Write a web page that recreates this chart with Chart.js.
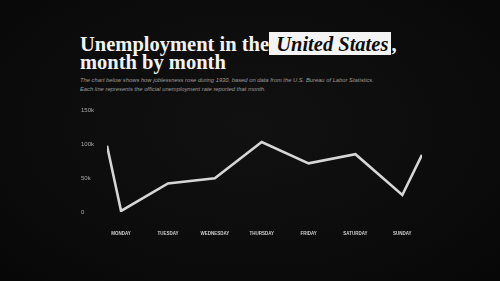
<!DOCTYPE html>
<html>
<head>
<meta charset="utf-8">
<script src="https://cdn.jsdelivr.net/npm/chart.js@4"></script>
<style>
    html, body {
        margin: 0;
        padding: 0;
        width: 500px;
        height: 281px;
        overflow: hidden;
        background: #0b0b0b;
    }
    body {
        position: relative;
        background: radial-gradient(ellipse at 50% 45%, #111111 0%, #0c0c0c 60%, #070707 100%);
    }
    .title {
        position: absolute;
        left: 80px;
        top: 35px;
        margin: 0;
        font-family: "Liberation Serif", "Times New Roman", serif;
        font-weight: bold;
        font-size: 20.5px;
        line-height: 18px;
        color: #f2f2f2;
        white-space: nowrap;
    }
    .title .hl {
        background: #f4f4f4;
        color: #0d0d0d;
        font-style: italic;
        font-weight: bold;
        padding: 1px 3px 0 2px;
    }
    .subtitle {
        position: absolute;
        left: 80px;
        top: 76px;
        margin: 0;
        font-family: "Liberation Sans", Arial, sans-serif;
        font-style: italic;
        font-size: 5.8px;
        line-height: 9px;
        color: #9c9c9c;
    }
    .chart-box {
        position: absolute;
        left: 0;
        top: 100px;
        width: 500px;
        height: 150px;
    }
</style>
</head>
<body>
<h1 class="title">Unemployment in the<span class="hl"> United States</span>,<br>month by month</h1>
<p class="subtitle">The chart below shows how joblessness rose during 1930, based on data from the U.S. Bureau of Labor Statistics.<br>Each line represents the official unemployment rate reported that month.</p>
<div class="chart-box"><canvas id="unemploymentChart"></canvas></div>

<script>
// Data
const days = ['MONDAY', 'TUESDAY', 'WEDNESDAY', 'THURSDAY', 'FRIDAY', 'SATURDAY', 'SUNDAY'];
const linePositions = [-0.3, 0, 1, 2, 3, 4, 5, 6, 6.42];
const lineValues = [97500, 1500, 42000, 49500, 103000, 71500, 85000, 25000, 84000];
const yTickValues = [0, 50000, 100000, 150000];
const yTickLabels = ['0', '50k', '100k', '150k'];

const ctx = document.getElementById('unemploymentChart').getContext('2d');
const chart = new Chart(ctx, {
    type: 'line',
    data: {
        datasets: [{
            data: linePositions.map((x, i) => ({ x: x, y: lineValues[i] })),
            borderColor: '#d6d6d6',
            borderWidth: 2.6,
            pointRadius: 0,
            tension: 0,
            fill: false
        }]
    },
    options: {
        responsive: true,
        maintainAspectRatio: false,
        animation: false,
        layout: {
            padding: { left: 81, right: 78, top: 10, bottom: 10 }
        },
        scales: {
            x: {
                type: 'linear',
                min: linePositions[0],
                max: linePositions[linePositions.length - 1],
                grid: { display: false, drawTicks: false },
                border: { display: false },
                afterBuildTicks: function(scale) {
                    scale.ticks = days.map((d, i) => ({ value: i }));
                },
                afterFit: function(scale) {
                    scale.height = 28;
                },
                ticks: {
                    padding: 19,
                    maxRotation: 0,
                    autoSkip: false,
                    color: '#cfcfcf',
                    font: { family: 'Liberation Sans', size: 4.5, weight: 'bold' },
                    callback: function(value) {
                        return days[value] || '';
                    }
                }
            },
            y: {
                min: 0,
                max: 150000,
                grid: { display: false, drawTicks: false },
                border: { display: false },
                afterBuildTicks: function(scale) {
                    scale.ticks = yTickValues.map(v => ({ value: v }));
                },
                afterFit: function(scale) {
                    scale.width = 26;
                },
                ticks: {
                    crossAlign: 'far',
                    color: '#a8a8a8',
                    font: { family: 'Liberation Sans', size: 6 },
                    callback: function(value) {
                        const i = yTickValues.indexOf(value);
                        return i >= 0 ? yTickLabels[i] : '';
                    }
                }
            }
        },
        plugins: {
            legend: { display: false },
            tooltip: { enabled: false }
        }
    }
});
</script>
</body>
</html>
